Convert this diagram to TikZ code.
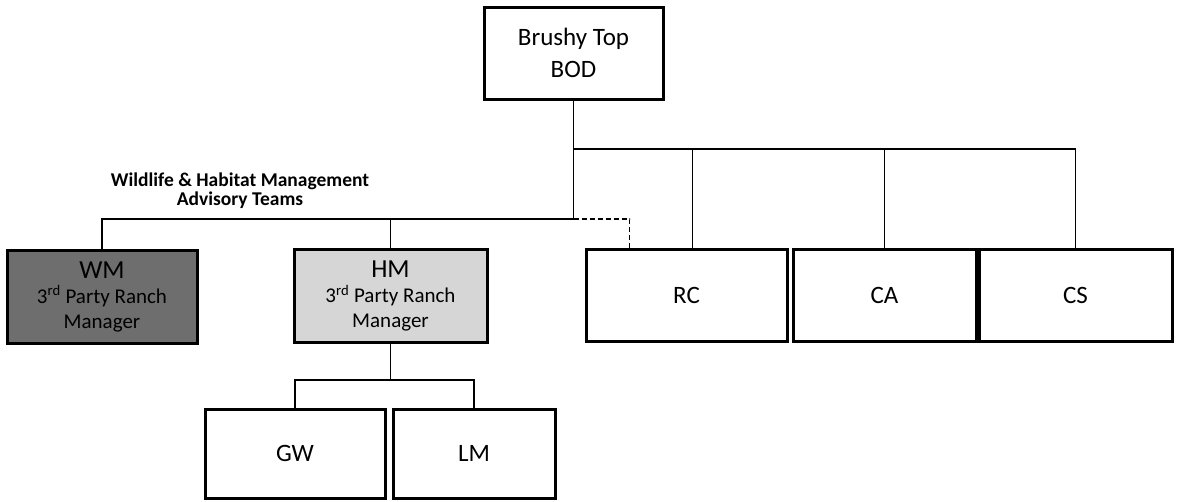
\documentclass[tikz,border=0pt]{standalone}
\usepackage{fontspec}
\setmainfont{Carlito}
\usetikzlibrary{positioning,calc}
\definecolor{btInk}{HTML}{000000}
\definecolor{btDark}{HTML}{6E6E6E}
\definecolor{btLight}{HTML}{D6D6D6}
\newcommand{\mgrname}[1]{{\fontsize{26}{28}\selectfont #1}}
\tikzset{
  unit/.style      ={draw=btInk,line width=3pt,fill=white,inner sep=0pt,
                     align=center,font=\fontsize{25}{28}\selectfont},
  board/.style     ={unit,minimum width=179pt,minimum height=92pt,
                     font=\fontsize{25}{32}\selectfont},
  mgr/.style       ={unit,minimum height=93pt,font=\fontsize{21}{25}\selectfont},
  mgrA/.style      ={mgr,fill=btDark},
  mgrB/.style      ={mgr,fill=btLight},
  link/.style      ={btInk,line width=1.6pt},
  linkdash/.style  ={link,dash pattern=on 5pt off 3pt},
  tlbl/.style      ={font=\bfseries\fontsize{19.5}{19}\selectfont,text=btInk,align=center},
}

\begin{document}
\begin{tikzpicture}[x=1pt,y=-1pt]
\useasboundingbox (0,0) rectangle (1177,501);

% board
\node[board] (bod) at (573.5,53) {Brushy Top\\BOD};

% committees
\node[unit,minimum width=201pt,minimum height=92pt] (rc) at (686.5,295) {RC};
\node[unit,minimum width=183pt,minimum height=92pt] (ca) at (884.5,295) {CA};
\node[unit,minimum width=193pt,minimum height=92pt] (cs) at (1075.5,295) {CS};

% ranch managers
\node[mgrA,minimum width=190pt] (wm) at (102,296.5)
  {\mgrname{WM}\\3\textsuperscript{rd} Party Ranch\\Manager};
\node[mgrB,minimum width=193pt] (hm) at (390.5,296)
  {\mgrname{HM}\\3\textsuperscript{rd} Party Ranch\\Manager};
\node[tlbl] (teams) at (240,191) {Wildlife \& Habitat Management\\Advisory Teams};

% under HM
\node[unit,minimum width=180pt,minimum height=89pt] (gw) at (295,453.5) {GW};
\node[unit,minimum width=162pt,minimum height=89pt] (lm) at (474,453.5) {LM};

% buses
\coordinate (busR) at (573.5,149);
\coordinate (busL) at (573.5,219);
\coordinate (busH) at (390.5,380);

\draw[link] (bod.south) -- (busL);
\draw[link] (busR) -| ($(rc.north)+(6,0)$);
\draw[link] (busR) -| (ca.north);
\draw[link] (busR) -| (cs.north);
\draw[link] (busL) -| (wm.north);
\draw[link] (busL) -| (hm.north);
\draw[linkdash] (busL) -| ($(rc.north west)+(45,0)$);
\draw[link] (hm.south) -- (busH);
\draw[link] (busH) -| (gw.north);
\draw[link] (busH) -| (lm.north);
\end{tikzpicture}
\end{document}
